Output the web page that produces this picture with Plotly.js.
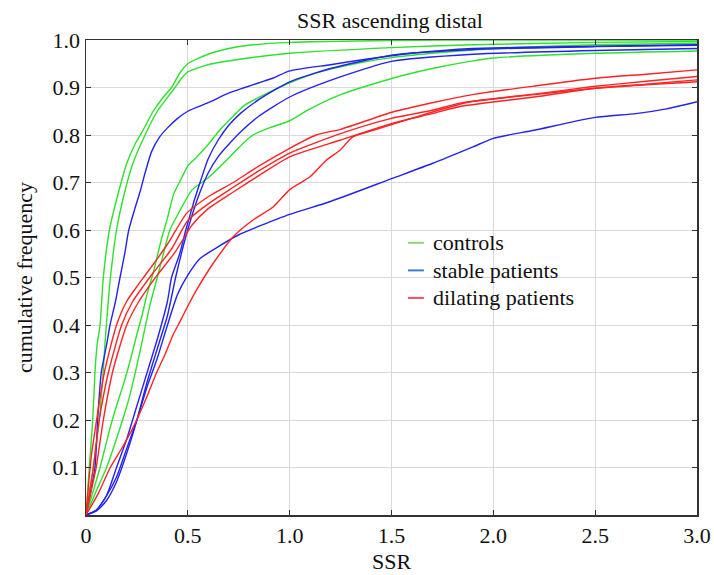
<!DOCTYPE html>
<html>
<head>
<meta charset="utf-8">
<script src="https://cdn.plot.ly/plotly-3.0.1.min.js"></script>
<style>
html,body{margin:0;padding:0;background:#fff;}
#chart{width:714px;height:575px;}
#fontprime{position:absolute;left:-5000px;top:0;font-family:"Liberation Serif",serif;font-size:22px;}
</style>
</head>
<body>
<div id="fontprime">SSR ascending distal cumulative frequency 0.123456789 controls stable dilating patients</div>
<div id="chart"></div>
<script>
// ---- controls (green) ----
const ctrl1X = [0,0.016,0.033,0.044,0.055,0.069,0.085,0.115,0.16,0.2,0.24,0.28,0.33,0.38,0.42,0.46,0.5,0.6,0.7,0.78,1.0,1.5,2.0,3.0];
const ctrl1Y = [0,0.1,0.2,0.3,0.36,0.4,0.5,0.6,0.68,0.74,0.78,0.81,0.85,0.88,0.9,0.93,0.95,0.97,0.982,0.988,0.995,0.999,1.0,1.0];
const ctrl2X = [0,0.036,0.065,0.084,0.093,0.1,0.12,0.15,0.19,0.23,0.29,0.35,0.437,0.47,0.5,0.6,0.78,1.0,1.5,1.9,2.5,3.0];
const ctrl2Y = [0,0.1,0.2,0.3,0.36,0.4,0.5,0.6,0.68,0.74,0.8,0.85,0.9,0.92,0.933,0.948,0.961,0.972,0.984,0.99,0.995,0.997];
const ctrl3X = [0,0.035,0.069,0.118,0.15,0.183,0.22,0.249,0.275,0.3,0.33,0.37,0.4,0.43,0.47,0.5,0.535,0.6,0.65,0.7,0.78,0.9,1.0,1.15,1.345,1.5,1.7,1.9,2.2,2.5,3.0];
const ctrl3Y = [0,0.05,0.1,0.183,0.23,0.274,0.33,0.379,0.42,0.465,0.51,0.58,0.625,0.675,0.71,0.735,0.75,0.78,0.807,0.83,0.863,0.89,0.91,0.933,0.952,0.963,0.972,0.979,0.986,0.99,0.993];
const ctrl4X = [0,0.05,0.1,0.167,0.216,0.265,0.314,0.35,0.38,0.412,0.46,0.52,0.6,0.65,0.72,0.78,0.82,0.9,1.0,1.1,1.25,1.5,1.7,1.885,2.0,2.5,3.0];
const ctrl4Y = [0,0.05,0.099,0.183,0.253,0.344,0.442,0.5,0.55,0.6,0.64,0.684,0.71,0.73,0.76,0.786,0.8,0.815,0.83,0.855,0.885,0.919,0.94,0.955,0.962,0.972,0.977];

// ---- stable patients (blue) ----
const stab1X = [0,0.044,0.057,0.075,0.101,0.118,0.145,0.167,0.19,0.21,0.24,0.265,0.29,0.322,0.36,0.4,0.45,0.5,0.6,0.7,0.78,0.85,0.92,1.0,1.2,1.35,1.6,1.9,2.5,3.0];
const stab1Y = [0,0.1,0.2,0.3,0.358,0.4,0.45,0.5,0.55,0.6,0.645,0.68,0.72,0.765,0.795,0.815,0.835,0.85,0.868,0.888,0.9,0.91,0.92,0.935,0.948,0.958,0.972,0.982,0.987,0.99];
const stab2X = [0,0.05,0.1,0.15,0.2,0.25,0.3,0.35,0.4,0.42,0.46,0.49,0.53,0.56,0.6,0.65,0.7,0.76,0.85,1.0,1.2,1.5,1.9,2.5,3.0];
const stab2Y = [0,0.01,0.04,0.1,0.16,0.23,0.3,0.37,0.45,0.5,0.55,0.6,0.66,0.7,0.75,0.79,0.82,0.846,0.875,0.912,0.94,0.968,0.98,0.986,0.989];
const stab3X = [0,0.05,0.1,0.15,0.2,0.25,0.3,0.35,0.4,0.44,0.48,0.52,0.56,0.6,0.65,0.7,0.76,0.85,1.0,1.2,1.5,1.9,2.5,3.0];
const stab3Y = [0,0.008,0.03,0.07,0.13,0.2,0.28,0.35,0.42,0.5,0.57,0.63,0.68,0.72,0.755,0.78,0.807,0.84,0.88,0.915,0.955,0.97,0.978,0.982];
const stab4X = [0,0.05,0.1,0.15,0.2,0.25,0.3,0.35,0.4,0.45,0.5,0.56,0.65,0.75,0.85,1.0,1.2,1.5,1.7,1.9,2.0,2.2,2.5,2.7,2.85,3.0];
const stab4Y = [0,0.01,0.04,0.08,0.14,0.2,0.27,0.33,0.4,0.465,0.505,0.54,0.565,0.59,0.608,0.633,0.66,0.708,0.74,0.775,0.793,0.81,0.837,0.845,0.855,0.87];

// ---- dilating patients (red) ----
const dil1X = [0,0.012,0.025,0.052,0.09,0.15,0.2,0.255,0.3,0.4,0.494,0.6,0.723,0.85,1.0,1.13,1.25,1.51,1.7,1.885,2.2,2.49,2.75,3.0];
const dil1Y = [0,0.06,0.12,0.2,0.3,0.4,0.45,0.484,0.51,0.57,0.635,0.67,0.7,0.735,0.772,0.8,0.812,0.849,0.868,0.884,0.903,0.919,0.928,0.937];
const dil2X = [0,0.018,0.036,0.065,0.11,0.175,0.23,0.285,0.33,0.42,0.5,0.6,0.723,0.85,1.0,1.25,1.5,1.7,1.836,2.2,2.49,2.75,3.0];
const dil2Y = [0,0.05,0.1,0.2,0.3,0.4,0.45,0.484,0.51,0.56,0.62,0.655,0.69,0.725,0.762,0.803,0.835,0.852,0.867,0.886,0.902,0.913,0.923];
const dil3X = [0,0.025,0.05,0.085,0.13,0.2,0.26,0.314,0.35,0.44,0.52,0.6,0.723,0.85,1.0,1.247,1.507,1.7,1.836,2.2,2.49,2.75,3.0];
const dil3Y = [0,0.05,0.1,0.2,0.3,0.4,0.45,0.484,0.505,0.555,0.61,0.645,0.68,0.715,0.754,0.789,0.825,0.845,0.86,0.88,0.898,0.907,0.916];
const dil4X = [0,0.06,0.118,0.175,0.23,0.29,0.347,0.39,0.427,0.46,0.5,0.543,0.625,0.723,0.82,0.92,1.0,1.1,1.18,1.247,1.31,1.41,1.575,1.885,2.2,2.49,3.0];
const dil4Y = [0,0.045,0.099,0.14,0.183,0.24,0.3,0.34,0.379,0.406,0.44,0.474,0.53,0.586,0.621,0.649,0.685,0.712,0.747,0.768,0.796,0.81,0.832,0.87,0.885,0.898,0.912];

const xTickVals = [0,0.5,1.0,1.5,2.0,2.5,3.0];
const xTickText = ['0','0.5','1.0','1.5','2.0','2.5','3.0'];
const yTickVals = [0.1,0.2,0.3,0.4,0.5,0.6,0.7,0.8,0.9,1.0];
const yTickText = ['0.1','0.2','0.3','0.4','0.5','0.6','0.7','0.8','0.9','1.0'];
const legendLabels = ['controls','stable patients','dilating patients'];
const chartTitle = 'SSR ascending distal';

const GREEN = 'rgb(45,225,45)', BLUE = 'rgb(35,35,240)', RED = 'rgb(255,35,35)';
const LEG_COLORS = ['rgb(140,215,110)','rgb(60,125,210)','rgb(255,75,85)'];

const groups = [
  {color: GREEN, curves: [[ctrl1X,ctrl1Y],[ctrl2X,ctrl2Y],[ctrl3X,ctrl3Y],[ctrl4X,ctrl4Y]], name: legendLabels[0]},
  {color: BLUE, curves: [[stab1X,stab1Y],[stab2X,stab2Y],[stab3X,stab3Y],[stab4X,stab4Y]], name: legendLabels[1]},
  {color: RED, curves: [[dil1X,dil1Y],[dil2X,dil2Y],[dil3X,dil3Y],[dil4X,dil4Y]], name: legendLabels[2]}
];

const FAM = '"Liberation Serif", "Times New Roman", serif';
function fnt(sz) { return {family: FAM, size: sz, color: 'rgb(17,17,17)'}; }

function build() {
  const traces = [];
  groups.forEach(g => {
    g.curves.forEach(c => {
      traces.push({x: c[0], y: c[1], type: 'scatter', mode: 'lines', name: g.name,
        line: {color: g.color, width: 1.4, shape: 'spline', smoothing: 0.6}, showlegend: false, hoverinfo: 'skip'});
    });
  });
  const shapes = [], annotations = [];
  const legX0 = 0.527, legX1 = 0.553, legTx = 0.565;
  const legYs = [0.573, 0.515, 0.457];
  legendLabels.forEach((lab, i) => {
    shapes.push({type: 'line', xref: 'paper', yref: 'paper', x0: legX0, x1: legX1, y0: legYs[i], y1: legYs[i],
      line: {color: LEG_COLORS[i], width: 2}});
    annotations.push({xref: 'paper', yref: 'paper', x: legTx, y: legYs[i], xanchor: 'left', yanchor: 'middle',
      text: lab, showarrow: false, font: fnt(22)});
  });
  annotations.push({xref: 'paper', yref: 'paper', x: 0.4975, y: 1.041, xanchor: 'center', yanchor: 'middle',
    text: chartTitle, showarrow: false, font: fnt(22)});
  const layout = {
    width: 714, height: 575,
    margin: {l: 86, r: 17, t: 40, b: 60},
    paper_bgcolor: '#fff', plot_bgcolor: '#fff',
    font: fnt(22),
    showlegend: false,
    xaxis: {range: [0, 3], tickvals: xTickVals, ticktext: xTickText, ticks: 'inside', ticklen: 5,
      tickcolor: '#333', showline: true, linecolor: '#333', linewidth: 1.5, mirror: 'ticks',
      showgrid: true, gridcolor: '#d9d9d9', gridwidth: 1, zeroline: false,
      tickfont: fnt(22), title: {text: 'SSR', font: fnt(22), standoff: 6}},
    yaxis: {range: [0, 1], tickvals: yTickVals, ticktext: yTickText, ticks: 'inside', ticklen: 5,
      tickcolor: '#333', showline: true, linecolor: '#333', linewidth: 1.5, mirror: 'ticks',
      showgrid: true, gridcolor: '#d9d9d9', gridwidth: 1, zeroline: false,
      tickfont: fnt(22), title: {text: 'cumulative frequency', font: fnt(22), standoff: 14}},
    shapes: shapes,
    annotations: annotations
  };
  return {traces, layout};
}

const config = {displayModeBar: false, staticPlot: true};
function draw() {
  const b = build();
  Plotly.newPlot('chart', b.traces, b.layout, config);
}
draw();
if (document.fonts) {
  document.fonts.load('22px "Liberation Serif"').then(draw).catch(() => {});
  document.fonts.ready.then(draw).catch(() => {});
}
window.addEventListener('load', draw);
</script>
</body>
</html>
